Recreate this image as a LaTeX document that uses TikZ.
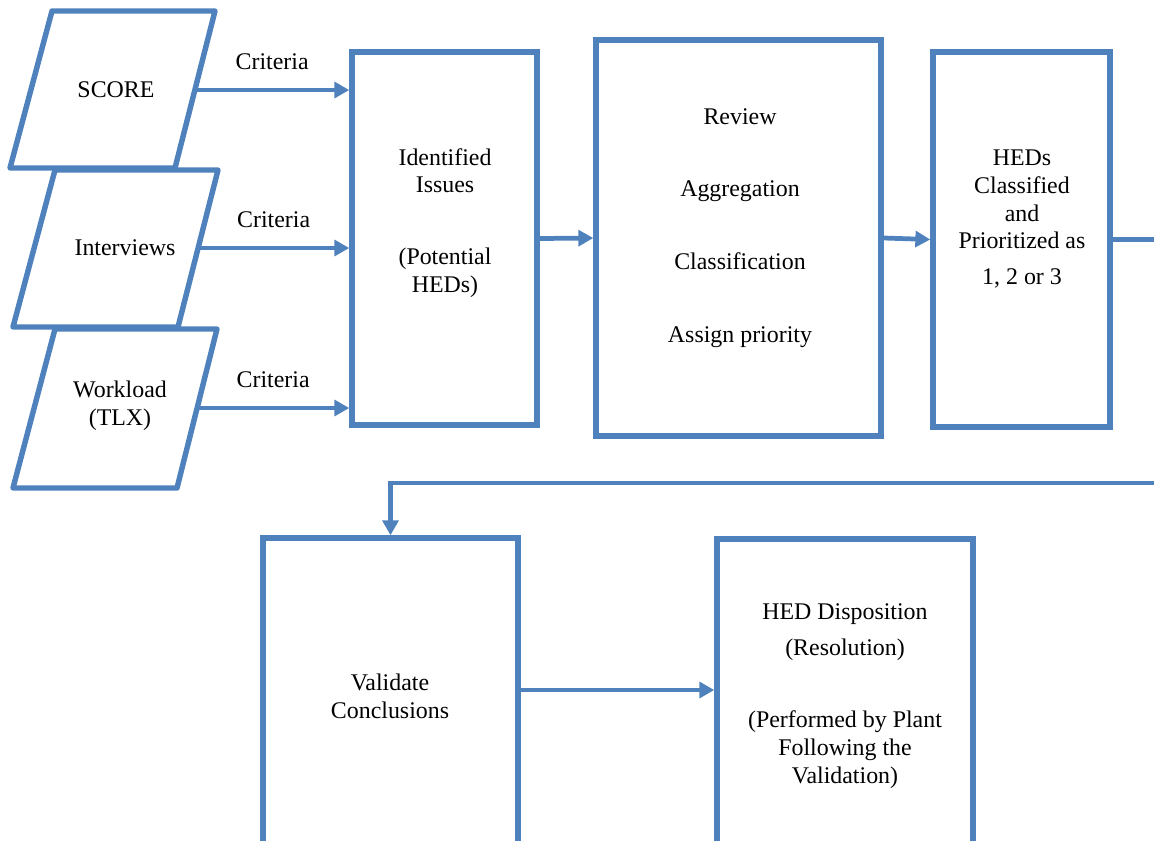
\documentclass[tikz,border=0pt]{standalone}
\usepackage{fontspec}
\setmainfont{Liberation Serif}
\usetikzlibrary{arrows.meta}
\definecolor{hedblue}{HTML}{4F81BD}

\begin{document}
\begin{tikzpicture}[x=0.02cm,y=-0.02cm,>={Triangle[length=8.5pt,width=9pt]},
box/.style={rectangle,draw=hedblue,line width=3.1pt,inner sep=0pt},
para/.style={draw=hedblue,line width=3.1pt,line join=round},
txt/.style={align=center,font=\fontsize{13.6}{15.9}\selectfont},
arr/.style={->,draw=hedblue,line width=2.7pt}]
\useasboundingbox (0,0) rectangle (1154,840);
\clip (0,0) rectangle (1154,840);
% inputs
\draw[para] (52,11) -- (215,11) -- (175,168) -- (10,168) -- cycle;
\draw[para] (55,170) -- (218,170) -- (178,327) -- (13,327) -- cycle;
\draw[para] (55,329) -- (217,329) -- (177,488) -- (13,488) -- cycle;
\node[txt] (score) at (116,90) {SCORE};
\node[txt] (interviews) at (125,248) {Interviews};
\node[txt] (workload) at (120,406) {Workload\\(TLX)};
\coordinate (score-e) at (195,90);
\coordinate (intv-e) at (198,248);
\coordinate (wl-e) at (197,408);
% boxes
\node[box,minimum width=3.7cm,minimum height=7.46cm] (iss) at (444.5,238.5) {};
\node[box,minimum width=5.7cm,minimum height=7.92cm] (rev) at (738.5,238) {};
\node[box,minimum width=3.54cm,minimum height=7.5cm] (hed) at (1021.5,239.5) {};
\node[box,minimum width=5.1cm,minimum height=7.24cm] (val) at (390.5,719) {};
\node[box,minimum width=5.12cm,minimum height=7.24cm] (disp) at (845,720) {};
\node[txt] (iss-t) at (445,223) {Identified\\Issues\\[25pt](Potential\\HEDs)};
\node[txt] (rev-t) at (740,228) {Review\\[25.5pt]Aggregation\\[25.5pt]Classification\\[25.5pt]Assign priority};
\node[txt] (hed-t) at (1022,219) {HEDs\\Classified\\and\\Prioritized as\\[4.5pt]1, 2 or 3};
\node[txt] (val-t) at (390,696) {Validate\\Conclusions};
\node[txt] (disp-t) at (845,696) {HED Disposition\\[4.5pt](Resolution)\\[25pt](Performed by Plant\\Following the\\Validation)};
% connectors
\draw[arr] (score-e) -- node[txt,above=7pt] {Criteria} (score-e -| iss.west);
\draw[arr] (intv-e) -- node[txt,above=7pt] {Criteria} (intv-e -| iss.west);
\draw[arr] (wl-e) -- node[txt,above=7pt] {Criteria} (wl-e -| iss.west);
\draw[arr] (iss.east) -- (rev.west);
\draw[arr] (rev.east) -- (hed.west);
\coordinate (turn) at (1175,483);
\draw[arr] (hed.east) -- (hed.east -| turn) -- (turn) -- (turn -| val.north) -- (val.north);
\coordinate (va) at (518,690);
\draw[arr] (va) -- (va -| disp.west);
\end{tikzpicture}
\end{document}
